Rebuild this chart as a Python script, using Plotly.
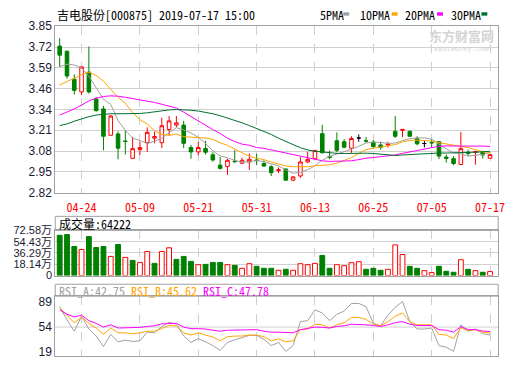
import plotly.graph_objects as go

# ---------------- data ----------------
dates = ["04-19", "04-22", "04-23", "04-24", "04-25", "04-26", "04-29", "04-30", "05-06", "05-07",
         "05-08", "05-09", "05-10", "05-13", "05-14", "05-15", "05-16", "05-17", "05-20", "05-21",
         "05-22", "05-23", "05-24", "05-27", "05-28", "05-29", "05-30", "05-31", "06-03", "06-04",
         "06-05", "06-06", "06-10", "06-11", "06-12", "06-13", "06-14", "06-17", "06-18", "06-19",
         "06-20", "06-21", "06-24", "06-25", "06-26", "06-27", "06-28", "07-01", "07-02", "07-03",
         "07-04", "07-05", "07-08", "07-09", "07-10", "07-11", "07-12", "07-15", "07-16", "07-17"]
tick_labels = ["04-24", "05-09", "05-21", "05-31", "06-13", "06-25", "07-05", "07-17"]

opens = [3.727, 3.695, 3.522, 3.443, 3.566, 3.399, 3.338, 3.175, 3.183, 3.139,
         3.032, 3.086, 3.129, 3.157, 3.129, 3.211, 3.238, 3.238, 3.099, 3.072,
         3.093, 3.054, 2.990, 2.982, 3.016, 3.002, 3.010, 3.022, 3.000, 2.980,
         2.956, 2.966, 2.897, 2.923, 3.010, 3.030, 3.185, 3.042, 3.141, 3.135,
         3.095, 3.158, 3.141, 3.133, 3.115, 3.115, 3.199, 3.205, 3.199, 3.155,
         3.124, 3.130, 3.135, 3.040, 3.030, 2.994, 3.070, 3.068, 3.070, 3.032]
highs = [3.776, 3.700, 3.552, 3.600, 3.725, 3.410, 3.357, 3.300, 3.199, 3.205,
         3.165, 3.135, 3.224, 3.197, 3.284, 3.294, 3.294, 3.264, 3.115, 3.135,
         3.141, 3.070, 3.040, 3.030, 3.082, 3.036, 3.062, 3.060, 3.020, 2.990,
         2.976, 2.970, 2.923, 3.040, 3.072, 3.085, 3.240, 3.080, 3.193, 3.151,
         3.169, 3.180, 3.165, 3.145, 3.135, 3.135, 3.294, 3.211, 3.205, 3.169,
         3.140, 3.150, 3.135, 3.056, 3.046, 3.195, 3.086, 3.076, 3.074, 3.055]
lows = [3.598, 3.526, 3.427, 3.423, 3.433, 3.320, 3.082, 3.175, 3.026, 3.056,
        3.032, 3.052, 3.072, 3.125, 3.095, 3.175, 3.225, 3.095, 3.030, 3.050,
        3.056, 3.012, 2.962, 2.929, 3.002, 2.996, 2.960, 2.990, 2.980, 2.923,
        2.940, 2.897, 2.891, 2.911, 3.002, 3.026, 3.066, 3.026, 3.070, 3.095,
        3.066, 3.135, 3.129, 3.095, 3.085, 3.100, 3.158, 3.164, 3.164, 3.113,
        3.100, 3.100, 3.027, 3.006, 2.990, 2.994, 3.046, 2.993, 3.030, 3.032]
closes = [3.671, 3.542, 3.453, 3.598, 3.443, 3.328, 3.169, 3.294, 3.095, 3.137,
          3.092, 3.099, 3.193, 3.167, 3.234, 3.264, 3.252, 3.125, 3.072, 3.099,
          3.070, 3.022, 2.970, 3.020, 3.012, 3.020, 3.026, 3.018, 2.984, 2.943,
          2.961, 2.897, 2.917, 3.010, 3.026, 3.080, 3.066, 3.038, 3.082, 3.101,
          3.155, 3.158, 3.139, 3.105, 3.100, 3.120, 3.169, 3.211, 3.169, 3.122,
          3.124, 3.128, 3.046, 3.032, 3.000, 3.092, 3.062, 3.074, 3.053, 3.055]

ma5 = [3.600, 3.615, 3.610, 3.592, 3.541, 3.473, 3.398, 3.366, 3.266, 3.205,
       3.157, 3.143, 3.123, 3.138, 3.157, 3.191, 3.222, 3.208, 3.189, 3.162,
       3.124, 3.078, 3.047, 3.036, 3.019, 3.009, 3.010, 3.019, 3.012, 2.998,
       2.986, 2.961, 2.940, 2.946, 2.962, 2.986, 3.020, 3.044, 3.058, 3.073,
       3.088, 3.107, 3.127, 3.132, 3.131, 3.124, 3.127, 3.141, 3.154, 3.158,
       3.159, 3.151, 3.118, 3.090, 3.066, 3.060, 3.046, 3.052, 3.056, 3.067]
ma10 = [3.487, 3.510, 3.528, 3.550, 3.565, 3.545, 3.510, 3.460, 3.410, 3.373,
        3.315, 3.271, 3.245, 3.202, 3.181, 3.174, 3.183, 3.166, 3.164, 3.160,
        3.158, 3.150, 3.128, 3.113, 3.091, 3.066, 3.044, 3.033, 3.024, 3.009,
        2.998, 2.985, 2.980, 2.979, 2.980, 2.986, 2.990, 2.992, 3.002, 3.018,
        3.037, 3.063, 3.086, 3.095, 3.102, 3.106, 3.117, 3.134, 3.143, 3.145,
        3.142, 3.139, 3.129, 3.122, 3.112, 3.109, 3.099, 3.085, 3.073, 3.067]
ma20 = [3.300, 3.318, 3.338, 3.362, 3.388, 3.405, 3.415, 3.419, 3.417, 3.410,
        3.402, 3.395, 3.388, 3.378, 3.367, 3.355, 3.343, 3.318, 3.290, 3.266,
        3.236, 3.210, 3.186, 3.157, 3.136, 3.120, 3.113, 3.099, 3.094, 3.084,
        3.078, 3.067, 3.054, 3.046, 3.035, 3.026, 3.017, 3.013, 3.013, 3.013,
        3.017, 3.024, 3.033, 3.037, 3.041, 3.046, 3.053, 3.063, 3.072, 3.081,
        3.089, 3.101, 3.107, 3.109, 3.107, 3.108, 3.108, 3.109, 3.108, 3.106]
ma30 = [3.235, 3.245, 3.262, 3.277, 3.290, 3.300, 3.306, 3.308, 3.308, 3.308,
        3.308, 3.310, 3.314, 3.320, 3.328, 3.332, 3.334, 3.333, 3.330, 3.325,
        3.318, 3.308, 3.296, 3.282, 3.268, 3.252, 3.235, 3.218, 3.200, 3.180,
        3.157, 3.135, 3.117, 3.098, 3.084, 3.076, 3.072, 3.064, 3.063, 3.062,
        3.064, 3.066, 3.064, 3.062, 3.058, 3.053, 3.050, 3.053, 3.056, 3.057,
        3.059, 3.062, 3.065, 3.065, 3.065, 3.067, 3.069, 3.070, 3.073, 3.076]

# volume in 万 (10k)
volumes = [64.7, 65.8, 46.7, 41.9, 62.6, 45.1, 46.7, 30.8, 49.9, 29.2,
           24.4, 21.2, 38.7, 19.6, 38.7, 44.6, 26.0, 30.8, 22.8, 17.5,
           18.0, 21.2, 21.2, 17.5, 16.4, 11.7, 19.1, 14.9, 11.7, 11.7,
           8.5, 10.1, 8.5, 19.1, 17.5, 19.6, 32.4, 11.7, 17.5, 15.9,
           20.7, 22.3, 10.1, 11.7, 8.5, 10.1, 49.3, 33.9, 14.9, 11.7,
           8.0, 4.8, 14.9, 6.9, 5.3, 25.5, 10.1, 8.0, 5.3, 6.4222]

rsi_a = [82.5, 64.0, 48.2, 69.1, 51.3, 41.5, 26.9, 43.8, 33.5, 35.8,
         34.0, 34.9, 46.9, 46.0, 54.9, 60.7, 58.0, 41.5, 32.6, 38.0,
         33.5, 28.2, 21.5, 32.6, 36.2, 39.3, 42.4, 42.4, 37.1, 28.2,
         32.6, 20.2, 28.2, 61.6, 62.9, 78.0, 73.6, 62.9, 71.8, 76.3,
         86.9, 86.9, 82.5, 59.3, 55.8, 70.5, 81.6, 89.6, 61.6, 51.3,
         51.3, 52.7, 28.2, 26.0, 20.2, 57.1, 48.2, 51.3, 45.0, 42.75]
rsi_b = [80.7, 70.0, 60.0, 68.0, 59.3, 52.7, 43.8, 52.7, 46.0, 46.0,
         44.7, 46.0, 48.2, 48.2, 52.7, 56.2, 55.8, 46.0, 42.9, 46.0,
         42.9, 40.2, 34.9, 40.6, 41.5, 41.5, 42.9, 42.9, 40.6, 34.9,
         37.5, 33.5, 34.9, 50.4, 51.3, 58.0, 57.1, 52.7, 57.1, 60.2,
         67.4, 67.4, 64.7, 58.0, 55.8, 61.6, 69.1, 73.6, 61.6, 57.1,
         57.1, 57.1, 43.8, 42.9, 38.0, 53.0, 49.5, 50.2, 47.0, 45.62]
rsi_c = [78.0, 71.8, 68.2, 70.5, 62.9, 59.3, 54.0, 57.1, 52.7, 52.7,
         52.7, 53.6, 54.9, 55.8, 58.5, 59.3, 59.3, 54.0, 51.8, 51.8,
         51.3, 49.6, 48.2, 49.6, 49.6, 49.6, 50.4, 50.4, 48.2, 46.9,
         46.9, 46.0, 46.0, 50.4, 52.7, 54.0, 53.6, 52.7, 54.9, 55.8,
         58.0, 58.0, 57.1, 56.2, 54.9, 57.1, 60.2, 61.6, 58.0, 56.2,
         56.2, 56.2, 50.4, 49.6, 46.9, 54.5, 50.5, 50.5, 48.5, 47.78]

price_min, price_max = 2.82, 3.85
vol_tick_values = [0, 18.14, 36.29, 54.43, 72.58]
vol_tick_labels = ["0", "18.14万", "36.29万", "54.43万", "72.58万"]
rsi_ticks = [19, 54, 89]
stock_title = "吉电股份[000875] 2019-07-17 15:00"
ma_names = ["5PMA", "10PMA", "20PMA", "30PMA"]

# ---------------- styling ----------------
W, H = 520, 365
RED = "#ff0000"
GREEN = "#008000"
MA_COLORS = ["#a0a0a0", "#ffa500", "#ff00ff", "#006f2e"]
RSI_COLORS = ["#a0a0a0", "#ffa500", "#ff00ff"]
GRID = "#d0d0d0"
BORDER = "#a0a0a0"
MONO = "Noto Sans Mono CJK SC, Liberation Mono, monospace"
SANS = "Liberation Sans, Arial, Noto Sans CJK SC, sans-serif"

def px(x):
    return x / W

def py(y):
    return 1 - y / H

X0, X1 = 56, 505
MAIN = (20, 193)
VOLT = (217.7, 232.3)
VOL = (232.3, 279.3)
RSIT = (288.3, 300.7)
RSI = (300.7, 363.3)

idx = list(range(len(dates)))
tick_pos = [dates.index(t) for t in tick_labels]
xr = [-0.61, len(dates) - 1 + 1.12]

def sub(lst, ids):
    return [lst[i] for i in ids]

fig = go.Figure()

# candles
up = [i for i in idx if closes[i] > opens[i]]
down = [i for i in idx if closes[i] < opens[i]]
flat = [i for i in idx if closes[i] == opens[i]]
for ids, lc, fc in [(up, RED, "#ffffff"), (down, GREEN, GREEN), (flat, "#000000", "#000000")]:
    fig.add_trace(go.Candlestick(
        x=ids, open=sub(opens, ids), high=sub(highs, ids), low=sub(lows, ids), close=sub(closes, ids),
        increasing=dict(line=dict(color=lc, width=1), fillcolor=fc),
        decreasing=dict(line=dict(color=lc, width=1), fillcolor=fc),
        whiskerwidth=0, xaxis="x", yaxis="y", hoverinfo="skip"))

for ma, c in zip([ma5, ma10, ma20, ma30], MA_COLORS):
    fig.add_trace(go.Scatter(x=idx, y=ma, mode="lines", line=dict(color=c, width=1),
                             xaxis="x", yaxis="y", hoverinfo="skip"))

# volume
vol_up = [closes[0] >= opens[0]] + [closes[i] >= closes[i - 1] for i in idx[1:]]
fig.add_trace(go.Bar(
    x=idx, y=volumes, width=0.66,
    marker=dict(color=["#ffffff" if u else GREEN for u in vol_up],
                line=dict(color=[RED if u else GREEN for u in vol_up], width=1)),
    xaxis="x2", yaxis="y2", hoverinfo="skip"))

# RSI
for r, c in zip([rsi_a, rsi_b, rsi_c], RSI_COLORS):
    fig.add_trace(go.Scatter(x=idx, y=r, mode="lines", line=dict(color=c, width=1),
                             xaxis="x3", yaxis="y3", hoverinfo="skip"))

xbase = dict(range=xr, tickmode="array", tickvals=tick_pos, showgrid=True, gridcolor=GRID,
             griddash="dash", gridwidth=1, zeroline=False, showline=True, linecolor=BORDER,
             linewidth=1, mirror=True, ticks="", fixedrange=True, domain=[px(X0), px(X1)])
ybase = dict(zeroline=False, showline=True, linecolor=BORDER, linewidth=1, mirror=True,
             ticks="", fixedrange=True, tickfont=dict(family=SANS, size=12, color="#1a1a33"))

n = 8
y_ticks = [price_min + (price_max - price_min) * k / n for k in range(n + 1)]
y_tick_text = ["%.2f" % (v + 1e-9) for v in y_ticks]

fig.update_layout(
    width=W, height=H, margin=dict(l=0, r=0, t=0, b=0),
    paper_bgcolor="white", plot_bgcolor="white", showlegend=False,
    xaxis=dict(**xbase, anchor="y", ticktext=tick_labels, ticklabelstandoff=4,
               tickfont=dict(family=MONO, size=12, color=RED), rangeslider=dict(visible=False)),
    yaxis=dict(**ybase, domain=[py(MAIN[1]), py(MAIN[0])], range=[price_min, price_max],
               tickmode="array", tickvals=y_ticks, ticktext=y_tick_text,
               showgrid=True, gridcolor=GRID, gridwidth=1, anchor="x"),
    xaxis2=dict(**xbase, anchor="y2", showticklabels=False),
    yaxis2=dict(**{**ybase, "tickfont": dict(family=SANS, size=11, color="#1a1a33")},
                domain=[py(VOL[1]), py(VOL[0])], range=[0, vol_tick_values[-1]],
                tickmode="array", tickvals=vol_tick_values, ticktext=vol_tick_labels,
                showgrid=True, gridcolor=GRID, gridwidth=1, anchor="x2"),
    xaxis3=dict(**xbase, anchor="y3", showticklabels=False),
    yaxis3=dict(**ybase, domain=[py(RSI[1]), py(RSI[0])], range=[13.24, 97.03],
                tickmode="array", tickvals=rsi_ticks, ticktext=[str(v) for v in rsi_ticks],
                showgrid=False, anchor="x3"),
    bargap=0.3,
)

# title boxes and RSI mid line
shapes = []
for (t0, t1) in [VOLT, RSIT]:
    shapes.append(dict(type="rect", xref="paper", yref="paper", x0=px(X0), x1=px(X1),
                       y0=py(t1), y1=py(t0), line=dict(color=BORDER, width=1), layer="above"))
shapes.append(dict(type="line", xref="x3 domain", yref="y3", x0=0, x1=1,
                   y0=rsi_ticks[1], y1=rsi_ticks[1], line=dict(color=GRID, width=1), layer="below"))
# legend colour chips
chip_x = [348, 397, 443, 488]
for cx, c in zip(chip_x, MA_COLORS):
    shapes.append(dict(type="rect", xref="paper", yref="paper", x0=px(cx), x1=px(cx + 6),
                       y0=py(9), y1=py(5.5), line=dict(width=0), fillcolor=c))
fig.update_layout(shapes=shapes)

ann = []
ann.append(dict(x=px(56), y=py(7.5), xref="paper", yref="paper", xanchor="left", yanchor="middle",
                text=stock_title, showarrow=False, font=dict(family=MONO, size=12, color="#000")))
label_x = [322, 363, 409, 455]
for lx, name in zip(label_x, ma_names):
    ann.append(dict(x=px(lx), y=py(7.5), xref="paper", yref="paper", xanchor="left", yanchor="middle",
                    text=name, showarrow=False, font=dict(family=MONO, size=12, color="#000")))
ann.append(dict(x=px(57.5), y=py((VOLT[0] + VOLT[1]) / 2 + 0.5), xref="paper", yref="paper",
                xanchor="left", yanchor="middle",
                text="成交量:%d" % round(volumes[-1] * 10000), showarrow=False,
                font=dict(family=MONO, size=12, color="#000")))
rsi_text = " ".join('<span style="color:%s">RSI_%s:%.2f</span>' % (c, k, r[-1])
                    for c, k, r in zip(RSI_COLORS, "ABC", [rsi_a, rsi_b, rsi_c]))
ann.append(dict(x=px(58), y=py((RSIT[0] + RSIT[1]) / 2 + 0.5), xref="paper", yref="paper",
                xanchor="left", yanchor="middle", text=rsi_text, showarrow=False,
                font=dict(family=MONO, size=12)))
# watermark
ann.append(dict(x=px(468), y=py(29.5), xref="paper", yref="paper", xanchor="center", yanchor="middle",
                text="<b>东方财富网</b>", showarrow=False,
                font=dict(family="Noto Sans CJK SC", size=13, color="#d4d4d4")))
ann.append(dict(x=px(468), y=py(43.5), xref="paper", yref="paper", xanchor="center", yanchor="middle",
                text="eastmoney.com", showarrow=False,
                font=dict(family="Liberation Mono", size=7, color="#d4d4d4")))
fig.update_layout(annotations=ann)

fig.write_html("out.html")
